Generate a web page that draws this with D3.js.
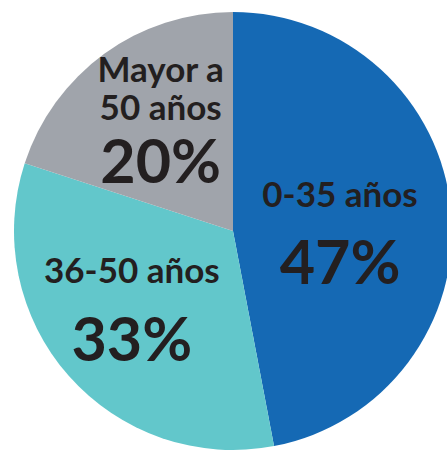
<!DOCTYPE html>
<html>
<head>
<meta charset="utf-8">
<script src="https://cdn.jsdelivr.net/npm/d3@7"></script>
<style>
  html, body { margin: 0; padding: 0; background: #fff; }
  svg { display: block; }
  text { font-family: Lato, "Open Sans", sans-serif; fill: #231f20; }
</style>
</head>
<body>
<svg id="chart" width="447" height="452"></svg>
<script>
// Age groups and their share (%)
const categories = ["0-35 años", "36-50 años", "Mayor a 50 años"];
const nameLines = [["0-35 años"], ["36-50 años"], ["Mayor a", "50 años"]];
const values = [47, 33, 20];
const colors = ["#1569b4", "#62c7cb", "#a0a4ab"];

const width = 447, height = 452;
const cx = 233, cy = 231, radius = 219;

// Per-slice nudges of the label block away from the arc centroid
const labelNudge = [[-2, 0], [-19, 0], [-8, 0]];
// Baseline offsets of name lines and percent, relative to the centroid
const nameBase = [[-14], [-20], [-60, -22]];
const pctBase = [63, 58, 41];

const svg = d3.select("#chart");
const g = svg.append("g").attr("transform", `translate(${cx},${cy})`);

const pie = d3.pie().sort(null).value(d => d);
const arcs = pie(values);

const arc = d3.arc().innerRadius(0).outerRadius(radius);
const labelArc = d3.arc().innerRadius(radius * 0.5).outerRadius(radius * 0.5);

g.selectAll("path.slice")
  .data(arcs)
  .join("path")
  .attr("class", "slice")
  .attr("d", arc)
  .attr("fill", (d, i) => colors[i]);

arcs.forEach((d, i) => {
  const [x, y] = labelArc.centroid(d);
  const lx = x + labelNudge[i][0];
  const ly = y + labelNudge[i][1];
  const lg = g.append("g").attr("transform", `translate(${lx},${ly})`);
  nameLines[i].forEach((line, j) => {
    lg.append("text")
      .attr("text-anchor", "middle")
      .attr("y", nameBase[i][j])
      .attr("font-size", 35)
      .attr("font-weight", 700)
      .text(line);
  });
  lg.append("text")
    .attr("text-anchor", "middle")
    .attr("y", pctBase[i])
    .attr("font-size", 61)
    .attr("font-weight", 700)
    .text(values[i] + "%");
});
</script>
</body>
</html>
